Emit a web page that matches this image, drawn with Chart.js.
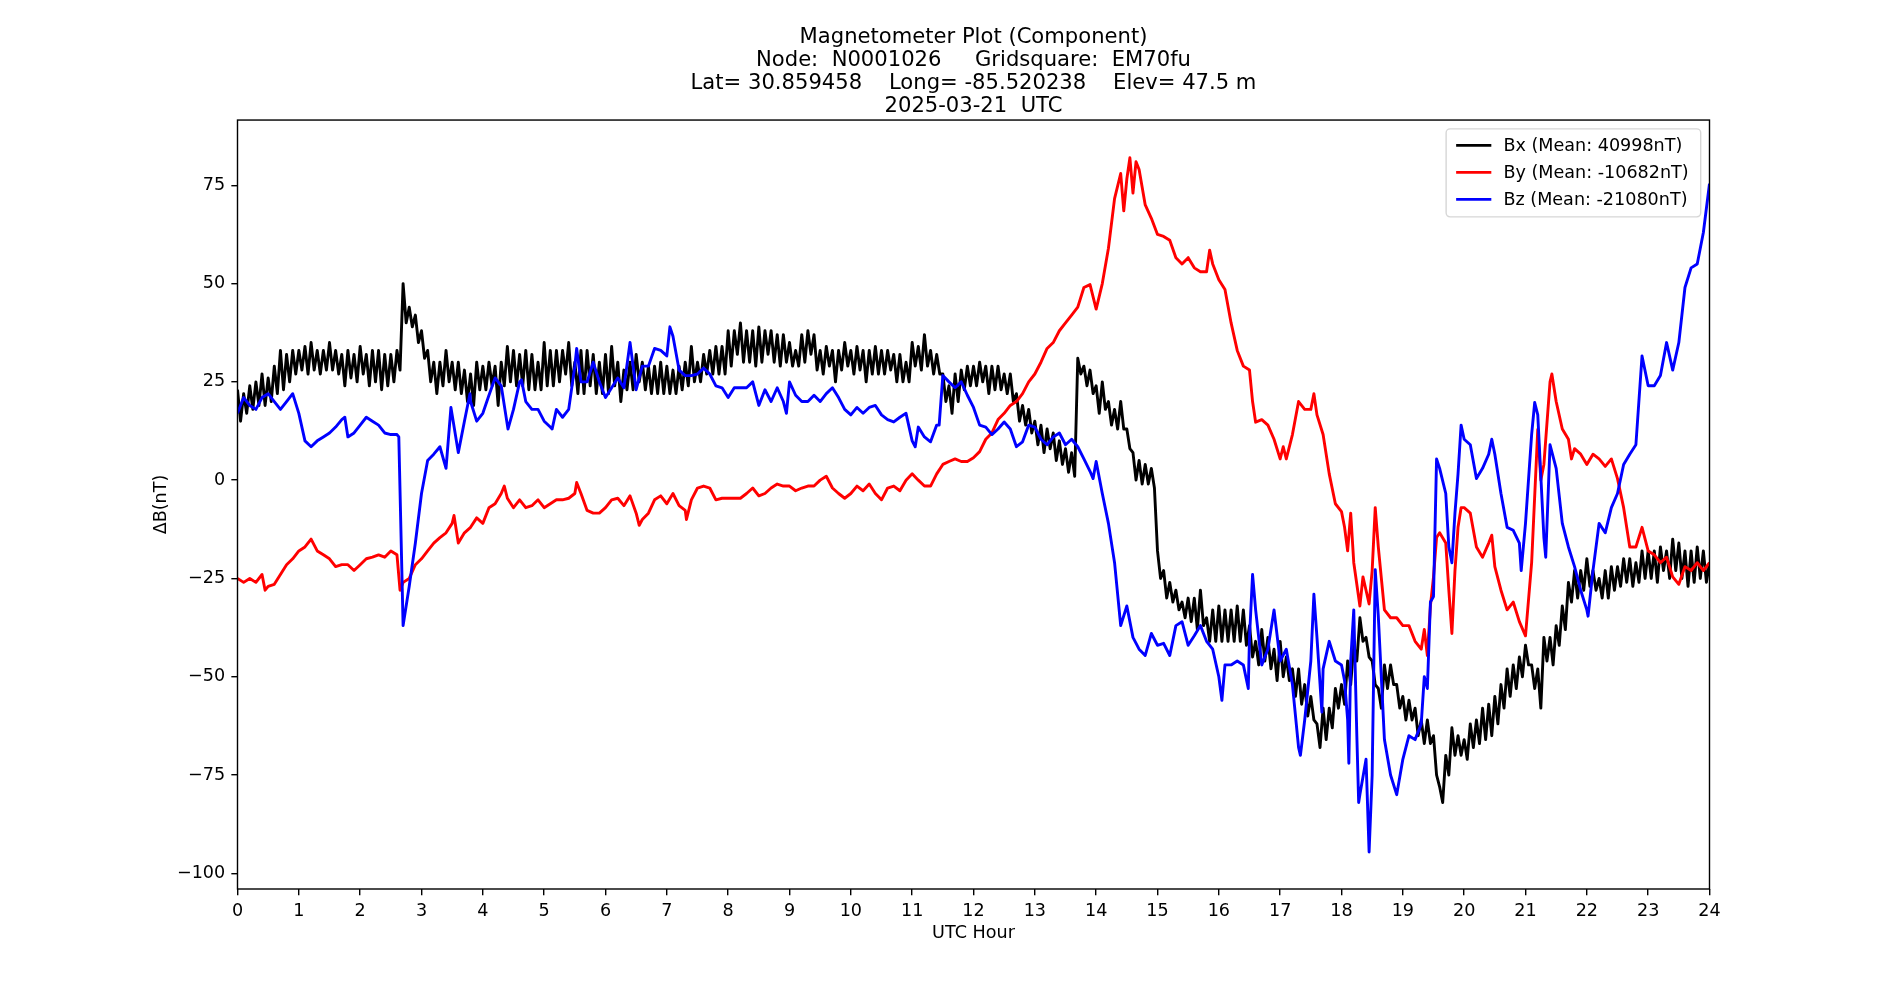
<!DOCTYPE html>
<html>
<head>
<meta charset="utf-8">
<title>Magnetometer Plot</title>
<script src="https://cdn.jsdelivr.net/npm/chart.js@4.4.1/dist/chart.umd.min.js"></script>
<style>
  body { margin: 0; background: #fff; }
  #wrap { width: 1900px; height: 1000px; }
</style>
</head>
<body>
<div id="wrap"><canvas id="magChart" width="1900" height="1000"></canvas></div>
<script>
// values, one every 0.1 h (index * STEP = UTC hour)
const STEP = 0.1;

const hourTicks = [0, 1, 2, 3, 4, 5, 6, 7, 8, 9, 10, 11, 12, 13, 14, 15, 16, 17, 18, 19, 20, 21, 22, 23, 24];
const nTTicks = [-100, -75, -50, -25, 0, 25, 50, 75];

const titleLines = [
  'Magnetometer Plot (Component)',
  'Node:  N0001026     Gridsquare:  EM70fu',
  'Lat= 30.859458    Long= -85.520238    Elev= 47.5 m',
  '2025-03-21  UTC'
];
const seriesLabels = ['Bx (Mean: 40998nT)', 'By (Mean: -10682nT)', 'Bz (Mean: -21080nT)'];
const seriesColors = ['#000000', '#ff0000', '#0000ff'];

// Bx is noisy: top and bottom of the band at each step
const bxHigh = [
  23, 22, 24, 25, 27, 26, 29, 33, 32, 33,
  33, 34, 35, 33, 33, 35, 33, 32, 33, 32,
  34, 32, 33, 33, 32, 32, 33, 50, 44, 42,
  38, 33, 30, 30, 33, 30, 30, 28, 27, 30,
  29, 30, 29, 30, 34, 33, 32, 33, 32, 30,
  35, 33, 33, 33, 35, 30, 33, 33, 32, 30,
  32, 34, 30, 28, 30, 32, 30, 29, 29, 30,
  29, 28, 29, 30, 34, 30, 32, 33, 34, 34,
  38, 38, 40, 38, 38, 39, 38, 38, 37, 37,
  35, 33, 37, 38, 37, 33, 34, 33, 33, 35,
  33, 34, 33, 33, 34, 33, 33, 32, 32, 30,
  35, 34, 37, 33, 32, 27, 24, 27, 28, 29,
  29, 30, 29, 29, 29, 27, 27, 22, 19, 18,
  15, 14, 13, 12, 10, 8, 7, 31, 29, 28,
  24, 25, 20, 18, 20, 13, 7, 5, 4, 3,
  -18, -23, -26, -28, -31, -30, -30, -28, -35, -33,
  -32, -33, -33, -32, -33, -37, -41, -38, -40, -43,
  -41, -45, -48, -48, -52, -55, -62, -58, -58, -53,
  -52, -46, -42, -35, -40, -46, -53, -47, -47, -52,
  -55, -56, -58, -61, -61, -65, -78, -70, -63, -65,
  -66, -62, -61, -58, -57, -55, -52, -48, -47, -45,
  -42, -47, -48, -40, -40, -37, -32, -26, -23, -23,
  -20, -23, -25, -23, -22, -22, -20, -20, -21, -18,
  -18, -18, -17, -18, -15, -16, -18, -18, -17, -18,
  -21
];
const bxLow = [
  15, 17, 18, 19, 19, 20, 22, 23, 25, 27,
  28, 27, 28, 27, 28, 28, 27, 24, 26, 25,
  27, 24, 25, 23, 24, 25, 28, 40, 39, 35,
  31, 25, 22, 24, 25, 23, 22, 20, 19, 23,
  23, 24, 19, 24, 25, 24, 24, 23, 23, 23,
  24, 24, 25, 27, 24, 22, 22, 24, 22, 22,
  22, 24, 20, 23, 23, 25, 23, 22, 22, 22,
  22, 22, 23, 24, 25, 25, 27, 27, 27, 27,
  29, 32, 30, 30, 29, 30, 32, 30, 29, 30,
  29, 29, 30, 32, 28, 27, 29, 25, 28, 29,
  27, 28, 25, 27, 27, 27, 28, 25, 25, 25,
  29, 28, 29, 27, 27, 20, 17, 20, 23, 24,
  24, 25, 22, 23, 23, 22, 20, 15, 14, 12,
  9, 7, 8, 5, 4, 2, 1, 27, 24, 22,
  17, 18, 14, 13, 13, 8, 0, -1, -1, -2,
  -25, -30, -31, -33, -35, -36, -38, -37, -41, -41,
  -41, -41, -41, -41, -42, -45, -47, -46, -48, -51,
  -50, -51, -55, -57, -60, -61, -68, -66, -63, -58,
  -57, -52, -46, -41, -45, -52, -58, -53, -52, -58,
  -61, -61, -65, -67, -67, -75, -82, -75, -70, -70,
  -71, -68, -67, -66, -65, -62, -58, -55, -53, -50,
  -47, -53, -58, -46, -47, -42, -38, -31, -30, -28,
  -27, -28, -30, -30, -28, -27, -26, -27, -26, -25,
  -25, -26, -23, -25, -23, -25, -27, -26, -25, -26,
  -27
];

const byValues = [
  -25, -26, -25, -26, -24, -27, -26.5, -24, -21.5, -20,
  -18, -17, -15, -18, -19, -20, -22, -21.5, -21.5, -23,
  -21.5, -20, -19.6, -19, -19.6, -18, -19, -26, -25, -21.5,
  -20, -18, -16, -14.6, -13.4, -11, -16, -13.4, -12, -9.6,
  -11, -7, -6, -3.4, -4.6, -7, -5, -7, -6.5, -5,
  -7, -6, -5, -5, -4.6, -3.4, -3.4, -7.7, -8.4, -8.4,
  -7, -5, -4.6, -6.5, -4, -8.4, -10, -8.4, -5, -4,
  -6, -3.4, -6.5, -7.7, -5, -2, -1.5, -2, -5, -4.6,
  -4.6, -4.6, -4.6, -3.4, -2, -4, -3.4, -2, -1, -1.5,
  -1.5, -2.7, -2, -1.5, -1.5, 0, 1, -2, -3.4, -4.6,
  -3.4, -1.5, -2.7, -1, -3.4, -5, -2, -1.5, -2.7, 0,
  1.6, 0, -1.5, -1.5, 1.6, 4, 4.75, 5.4, 4.75, 4.75,
  5.7, 7.25, 10.4, 12, 15.4, 17, 19, 20, 22, 25,
  27, 30, 33.5, 35, 38, 40, 42, 44, 49, 49.75,
  43.5, 50, 59, 71.6, 78, 76.6, 73, 79, 70, 66.6,
  62.5, 62, 61, 56.6, 55, 56.6, 54, 53, 53, 55,
  51, 48.5, 40, 33, 29, 28, 14.75, 15.4, 14, 10.4,
  5.4, 5.4, 11.6, 20, 18, 18, 16.6, 11.6, 1.6, -6,
  -8, -18, -21, -32, -28, -23, -17, -33, -35, -35,
  -37, -37, -41, -43, -44.6, -24.6, -13.4, -16, -39, -12,
  -7, -8.4, -17, -19.6, -16, -22, -28, -33, -31, -36,
  -39.6, -21, 12.9, 4, 25, 20, 13, 10.4, 8, 6.6,
  4, 6.6, 5.4, 3.5, 5.4, 0.4, -7, -17, -17, -12,
  -18, -19, -21, -19.6, -24.6, -26.5, -22, -23, -21, -23,
  -21
];
// sharp peaks and dips between the 0.1 h steps: [hour, nT]
const bySpikes = [
  [0.45, -28], [2.65, -28], [3.53, -9], [4.35, -1.5], [5.53, -0.6], [6.55, -11.5],
  [7.32, -10], [14.45, 68.5], [14.55, 82], [14.65, 81], [15.85, 58.5], [16.55, 20],
  [17.05, 8.5], [17.55, 22], [18.05, -12], [18.15, -8.4], [18.35, -24.6], [18.45, -31.5],
  [18.55, -7], [19.35, -38], [19.45, -32], [19.55, -14.6], [19.75, -28], [19.85, -23],
  [19.95, -7], [20.45, -14], [21.25, 0], [21.43, 27], [21.75, 5.4]
];

const bzValues = [
  17, 21, 19, 18, 21, 22, 20, 18, 20, 22,
  17, 10, 8.5, 10, 11, 12, 13.5, 15.4, 11, 12,
  14, 16, 15, 14, 12, 11.6, 11.6, -37, -27, -16,
  -3.4, 5, 6.6, 8.5, 3, 16.6, 7, 15, 20, 15,
  17, 21.6, 26, 24, 14, 18, 25, 20, 18, 18,
  15, 13.5, 18, 16, 18, 29, 25, 25, 30, 25,
  21, 23.5, 26, 23.5, 35, 23, 29, 29, 33.5, 33,
  31.6, 36.6, 28, 26.6, 26.6, 27, 28.5, 27, 24, 23.5,
  21, 23.5, 23.5, 23.5, 25, 19, 23, 20, 23.5, 20,
  25, 21.6, 20, 20, 21.6, 20, 22, 23.5, 21, 18,
  16.6, 18.5, 17, 18.5, 19, 16.6, 15.4, 14.8, 16, 17,
  10, 13.5, 11, 9.75, 14, 26.6, 25, 23.5, 25, 21.6,
  18.5, 14, 13.5, 11.6, 13, 14.8, 13, 8.5, 9.75, 14,
  13.5, 10.4, 9, 11, 12, 9, 10.4, 8.5, 5.4, 2.25,
  4.75, -3.4, -11, -21, -37, -32, -40, -43, -44.6, -39,
  -42, -41.5, -44.6, -37, -36, -42, -39.6, -37, -41, -43,
  -50, -47, -47, -46, -47, -40, -33, -47, -43, -33,
  -46, -43, -52, -68, -61, -46, -40, -48, -41, -46,
  -47, -61, -33, -80, -71, -75, -34.6, -66, -75, -80,
  -71, -65, -66, -62, -53, -29.6, 3, -3.4, -21, 1.6,
  10.4, 9, 0.4, 3, 6.6, 6.6, -3.4, -12, -12.75, -16,
  -11, 11.6, 16.6, -14.6, 9, 3, -11, -17, -22, -28,
  -33, -23, -11, -13.4, -7, -3.4, 4, 6.6, 9, 31.6,
  24, 24, 26.6, 35, 28, 35, 49, 54, 55, 63,
  75.4
];
const bzSpikes = [
  [1.75, 16], [2.63, 11], [3.48, 18.5], [3.79, 22], [4.41, 13], [4.63, 25.5],
  [5.13, 13], [5.53, 33.5], [7.05, 39], [8.95, 17], [11.05, 8.5], [11.44, 14],
  [13.95, 0.4], [16.05, -56], [16.48, -53], [16.55, -24], [17.33, -70], [17.55, -29],
  [17.68, -59], [18.05, -51], [18.12, -72], [18.15, -46], [18.25, -65], [18.28, -82],
  [18.45, -94.6], [18.55, -22.75], [19.35, -50], [19.45, -31], [19.55, 5.4], [19.75, -17],
  [19.85, -8.4], [19.95, 14], [20.45, 10.4], [20.93, -23], [21.15, 19.75], [21.33, -19.6],
  [22.02, -34.6]
];

const DPI_PX = 126.67 / 72;   // matplotlib points -> px for this figure
const FONT = "'DejaVu Sans', 'Liberation Sans', sans-serif";

const withSpikes = (values, spikes) => {
  const pts = values.map((v, i) => ({ x: Math.round(i * STEP * 100) / 100, y: v }));
  spikes.forEach(([x, y]) => pts.push({ x, y }));
  return pts.sort((a, b) => a.x - b.x);
};

const bandPoints = (high, low) => {
  const pts = [];
  high.forEach((v, i) => {
    pts.push({ x: i * STEP, y: v });
    if (i < high.length - 1) pts.push({ x: i * STEP + STEP / 2, y: low[i] });
  });
  return pts;
};

const frameAndLegend = {
  id: 'frameAndLegend',
  afterDraw(chart) {
    const { ctx, chartArea } = chart;
    ctx.save();
    ctx.strokeStyle = '#000';
    ctx.lineWidth = 0.8 * DPI_PX;
    ctx.strokeRect(chartArea.left, chartArea.top, chartArea.right - chartArea.left, chartArea.bottom - chartArea.top);

    const fs = 10 * DPI_PX;
    ctx.font = fs + 'px ' + FONT;
    const sets = chart.data.datasets;
    const textW = Math.max(...sets.map(d => ctx.measureText(d.label).width));
    const pad = 10, handle = 2 * fs, gap = 0.8 * fs, rowH = 27;
    const w = pad + handle + gap + textW + pad;
    const h = 88;
    const right = chartArea.right - 0.5 * fs;
    const top = chartArea.top + 0.5 * fs;
    const left = right - w;

    ctx.beginPath();
    ctx.roundRect(left, top, w, h, 4);
    ctx.fillStyle = 'rgba(255,255,255,0.8)';
    ctx.fill();
    ctx.strokeStyle = 'rgba(204,204,204,0.8)';
    ctx.lineWidth = 1.4;
    ctx.stroke();

    ctx.textBaseline = 'middle';
    ctx.textAlign = 'left';
    sets.forEach((d, i) => {
      const y = top + 16.5 + i * rowH;
      ctx.beginPath();
      ctx.moveTo(left + pad, y);
      ctx.lineTo(left + pad + handle, y);
      ctx.strokeStyle = d.borderColor;
      ctx.lineWidth = 1.5 * DPI_PX;
      ctx.stroke();
      ctx.fillStyle = '#000';
      ctx.fillText(d.label, left + pad + handle + gap - 2, y + 1);
    });
    ctx.restore();
  }
};

const lineSet = (label, color, data, order) => ({
  label,
  data,
  borderColor: color,
  backgroundColor: color,
  borderWidth: 2.9,
  borderJoinStyle: 'round',
  pointRadius: 0,
  tension: 0,
  fill: false,
  order
});

const axisLine = {
  display: true,
  drawOnChartArea: false,
  drawTicks: true,
  tickLength: 3.5 * DPI_PX,
  tickWidth: 0.8 * DPI_PX,
  tickColor: '#000',
  color: '#000',
  lineWidth: 0.8 * DPI_PX
};

Chart.defaults.font.family = FONT;
Chart.defaults.color = '#000';

new Chart(document.getElementById('magChart'), {
  type: 'line',
  data: {
    datasets: [
      lineSet(seriesLabels[0], seriesColors[0], bandPoints(bxHigh, bxLow), 3),
      lineSet(seriesLabels[1], seriesColors[1], withSpikes(byValues, bySpikes), 2),
      lineSet(seriesLabels[2], seriesColors[2], withSpikes(bzValues, bzSpikes), 1)
    ]
  },
  options: {
    responsive: false,
    animation: false,
    events: [],
    layout: { padding: { left: 0, right: 190.5, top: 0, bottom: 0 } },
    plugins: {
      legend: { display: false },
      tooltip: { enabled: false },
      title: {
        display: true,
        fullSize: false,
        text: titleLines,
        color: '#000',
        font: { size: 12 * DPI_PX, weight: 'normal', lineHeight: 1.09 },
        padding: { top: 26, bottom: 2 }
      }
    },
    scales: {
      x: {
        type: 'linear',
        min: 0,
        max: 24,
        afterFit: s => { s.height = 111; },
        afterBuildTicks: s => { s.ticks = hourTicks.map(v => ({ value: v })); },
        grid: axisLine,
        border: { display: false },
        ticks: { font: { size: 10 * DPI_PX }, padding: 3.5 * DPI_PX, maxRotation: 0, autoSkip: false, color: '#000' },
        title: { display: true, text: 'UTC Hour', font: { size: 10 * DPI_PX }, padding: { top: 0, bottom: 56.5 }, color: '#000' }
      },
      y: {
        type: 'linear',
        min: -104,
        max: 91.6,
        afterFit: s => { s.width = 237.5; },
        afterBuildTicks: s => { s.ticks = nTTicks.map(v => ({ value: v })); },
        grid: axisLine,
        border: { display: false },
        ticks: {
          font: { size: 10 * DPI_PX },
          padding: 3.5 * DPI_PX,
          color: '#000',
          callback: v => String(v).replace('-', '\u2212')
        },
        title: { display: true, text: '\u0394B(nT)', font: { size: 10 * DPI_PX }, padding: { top: 151, bottom: 0 }, color: '#000' }
      }
    }
  },
  plugins: [frameAndLegend]
});
</script>
</body>
</html>
